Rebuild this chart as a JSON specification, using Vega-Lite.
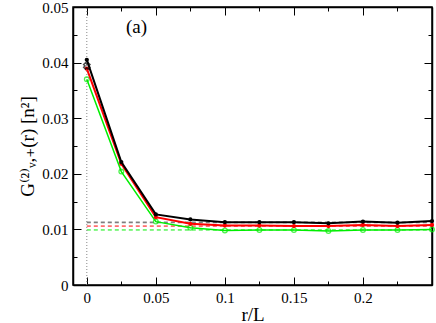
{
  "$schema": "https://vega.github.io/schema/vega-lite/v6.json",
  "width": 359,
  "height": 278,
  "autosize": "none",
  "padding": {"left": 73, "top": 7, "right": 4, "bottom": 38},
  "background": "white",
  "config": {
    "view": {"stroke": "black", "strokeWidth": 1.5},
    "font": "'Liberation Serif', 'DejaVu Serif', serif",
    "axis": {
      "domainColor": "black",
      "domainWidth": 1.5,
      "tickColor": "black",
      "labelColor": "black",
      "titleColor": "black",
      "labelFont": "'Liberation Serif', 'DejaVu Serif', serif",
      "titleFont": "'Liberation Serif', 'DejaVu Serif', serif",
      "labelFontSize": 15,
      "titleFontSize": 19,
      "titleFontWeight": "normal",
      "grid": false
    }
  },
  "datasets": {
    "curves": [
      {"s": "A", "x": 0, "y": 0.0405}, {"s": "A", "x": 0.025, "y": 0.0221}, {"s": "A", "x": 0.05, "y": 0.0127},
      {"s": "A", "x": 0.075, "y": 0.0118}, {"s": "A", "x": 0.1, "y": 0.0113}, {"s": "A", "x": 0.125, "y": 0.0113},
      {"s": "A", "x": 0.15, "y": 0.0113}, {"s": "A", "x": 0.175, "y": 0.0111}, {"s": "A", "x": 0.2, "y": 0.0114},
      {"s": "A", "x": 0.225, "y": 0.0112}, {"s": "A", "x": 0.25, "y": 0.0115},
      {"s": "B", "x": 0, "y": 0.0389}, {"s": "B", "x": 0.025, "y": 0.0218}, {"s": "B", "x": 0.05, "y": 0.0122},
      {"s": "B", "x": 0.075, "y": 0.011}, {"s": "B", "x": 0.1, "y": 0.0107}, {"s": "B", "x": 0.125, "y": 0.0107},
      {"s": "B", "x": 0.15, "y": 0.0106}, {"s": "B", "x": 0.175, "y": 0.0106}, {"s": "B", "x": 0.2, "y": 0.0108},
      {"s": "B", "x": 0.225, "y": 0.0106}, {"s": "B", "x": 0.25, "y": 0.0108},
      {"s": "C", "x": 0, "y": 0.037}, {"s": "C", "x": 0.025, "y": 0.0204}, {"s": "C", "x": 0.05, "y": 0.0114},
      {"s": "C", "x": 0.075, "y": 0.0103}, {"s": "C", "x": 0.1, "y": 0.0098}, {"s": "C", "x": 0.125, "y": 0.0099},
      {"s": "C", "x": 0.15, "y": 0.0099}, {"s": "C", "x": 0.175, "y": 0.0097}, {"s": "C", "x": 0.2, "y": 0.0099},
      {"s": "C", "x": 0.225, "y": 0.0099}, {"s": "C", "x": 0.25, "y": 0.01}
    ],
    "dashed": [
      {"s": "dA", "x0": 0, "x1": 0.25, "y": 0.01135},
      {"s": "dB", "x0": 0, "x1": 0.25, "y": 0.0112},
      {"s": "dR", "x0": 0, "x1": 0.25, "y": 0.0106},
      {"s": "dG", "x0": 0, "x1": 0.25, "y": 0.0099}
    ],
    "cross": [{"x": 0, "y": 0.0394}],
    "label": [{"x": 0.036, "y": 0.0464, "t": "(a)"}]
  },
  "resolve": {"axis": {"x": "independent", "y": "independent"}},
  "layer": [
    {
      "data": {"name": "dashed"},
      "mark": {"type": "rule", "strokeDash": [4, 3], "strokeWidth": 1},
      "encoding": {
        "x": {
          "field": "x0", "type": "quantitative",
          "scale": {"domain": [-0.01, 0.25], "nice": false, "zero": false},
          "axis": {
            "orient": "bottom", "title": "r/L", "titlePadding": 0,
            "values": [0, 0.025, 0.05, 0.075, 0.1, 0.125, 0.15, 0.175, 0.2, 0.225],
            "labelExpr": "abs(datum.value*20 - round(datum.value*20)) < 1e-6 ? format(datum.value, '.2~f') : ''",
            "tickSize": {"condition": {"test": "abs(datum.value*20 - round(datum.value*20)) < 1e-6", "value": -8}, "value": -4},
            "labelPadding": 13
          }
        },
        "x2": {"field": "x1"},
        "y": {
          "field": "y", "type": "quantitative",
          "scale": {"domain": [0, 0.05], "nice": false, "zero": false},
          "axis": {
            "orient": "left",
            "title": "G⁽²⁾ᵥ,₊(r) [n²]",
            "titlePadding": 4,
            "values": [0, 0.005, 0.01, 0.015, 0.02, 0.025, 0.03, 0.035, 0.04, 0.045, 0.05],
            "labelExpr": "abs(datum.value*100 - round(datum.value*100)) < 1e-6 ? format(datum.value, '.2~f') : ''",
            "tickSize": {"condition": {"test": "abs(datum.value*100 - round(datum.value*100)) < 1e-6", "value": -8}, "value": -4},
            "labelPadding": 13
          }
        },
        "color": {
          "field": "s", "type": "nominal", "legend": null,
          "scale": {"domain": ["A", "B", "C", "dA", "dB", "dR", "dG"], "range": ["#000000", "#ff0000", "#00ee00", "#999999", "#666666", "#ff0000", "#00ee00"]}
        }
      }
    },
    {
      "data": {"values": [{"x": 0}]},
      "mark": {"type": "rule", "strokeDash": [1, 2], "strokeWidth": 1, "color": "#888888"},
      "encoding": {
        "x": {
          "field": "x", "type": "quantitative",
          "axis": {
            "orient": "top", "title": null, "labels": false,
            "values": [0, 0.025, 0.05, 0.075, 0.1, 0.125, 0.15, 0.175, 0.2, 0.225],
            "tickSize": {"condition": {"test": "abs(datum.value*20 - round(datum.value*20)) < 1e-6", "value": -8}, "value": -4}
          }
        },
        "y": {
          "datum": 0, "type": "quantitative",
          "axis": {
            "orient": "right", "title": null, "labels": false,
            "values": [0, 0.005, 0.01, 0.015, 0.02, 0.025, 0.03, 0.035, 0.04, 0.045, 0.05],
            "tickSize": {"condition": {"test": "abs(datum.value*100 - round(datum.value*100)) < 1e-6", "value": -8}, "value": -4}
          }
        },
        "y2": {"datum": 0.05}
      }
    },
    {
      "data": {"name": "curves"},
      "transform": [{"filter": "datum.s == 'C'"}],
      "layer": [
        {"mark": {"type": "line", "strokeWidth": 1.5}},
        {"mark": {"type": "point", "shape": "circle", "filled": false, "size": 22, "strokeWidth": 1.3}}
      ],
      "encoding": {
        "x": {"field": "x", "type": "quantitative", "axis": null},
        "y": {"field": "y", "type": "quantitative", "axis": null},
        "color": {"field": "s", "type": "nominal", "legend": null}
      }
    },
    {
      "data": {"name": "curves"},
      "transform": [{"filter": "datum.s == 'B'"}],
      "layer": [
        {"mark": {"type": "line", "strokeWidth": 2}},
        {"mark": {"type": "point", "shape": "circle", "filled": true, "size": 18, "opacity": 1}}
      ],
      "encoding": {
        "x": {"field": "x", "type": "quantitative", "axis": null},
        "y": {"field": "y", "type": "quantitative", "axis": null},
        "color": {"field": "s", "type": "nominal", "legend": null}
      }
    },
    {
      "data": {"name": "curves"},
      "transform": [{"filter": "datum.s == 'A'"}],
      "layer": [
        {"mark": {"type": "line", "strokeWidth": 2}},
        {"mark": {"type": "point", "shape": "circle", "filled": true, "size": 18, "opacity": 1}}
      ],
      "encoding": {
        "x": {"field": "x", "type": "quantitative", "axis": null},
        "y": {"field": "y", "type": "quantitative", "axis": null},
        "color": {"field": "s", "type": "nominal", "legend": null}
      }
    },
    {
      "data": {"name": "cross"},
      "mark": {"type": "point", "shape": "cross", "filled": false, "size": 40, "strokeWidth": 1.5, "color": "black", "angle": 45},
      "encoding": {
        "x": {"field": "x", "type": "quantitative", "axis": null},
        "y": {"field": "y", "type": "quantitative", "axis": null}
      }
    },
    {
      "data": {"name": "label"},
      "mark": {"type": "text", "fontSize": 19, "font": "'Liberation Serif', 'DejaVu Serif', serif", "color": "black"},
      "encoding": {
        "x": {"field": "x", "type": "quantitative", "axis": null},
        "y": {"field": "y", "type": "quantitative", "axis": null},
        "text": {"field": "t"}
      }
    }
  ]
}
